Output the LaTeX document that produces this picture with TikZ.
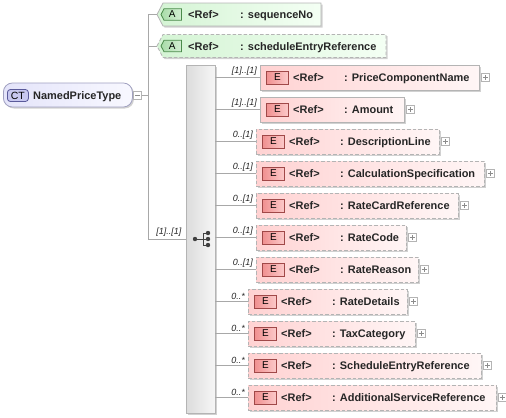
\documentclass[tikz,border=0pt]{standalone}
\usepackage{fontspec}
\setmainfont{Liberation Sans}
\usetikzlibrary{calc,shadows}
\definecolor{linec}{HTML}{A8A8A8}
\definecolor{boxb}{HTML}{B4B4B4}
\definecolor{ctfillL}{HTML}{E4E4FA}
\definecolor{ctfillR}{HTML}{F8F8FF}
\definecolor{ctbord}{HTML}{A0A0C0}
\definecolor{ctbadge}{HTML}{C8C8F0}
\definecolor{ctbadgeb}{HTML}{5A5A9A}
\definecolor{atL}{HTML}{D4F4D4}
\definecolor{atR}{HTML}{F4FFF4}
\definecolor{atbadge}{HTML}{A8DCA8}
\definecolor{atbadgeb}{HTML}{4A8A4A}
\definecolor{elL}{HTML}{FFD2D2}
\definecolor{elR}{HTML}{FFF6F6}
\definecolor{elbadgeL}{HTML}{F09090}
\definecolor{elbadgeR}{HTML}{FCCACA}
\definecolor{elbadgeb}{HTML}{A04848}
\definecolor{seqL}{HTML}{DCDCDC}
\definecolor{seqR}{HTML}{F6F6F6}
\definecolor{icon}{HTML}{404040}
\tikzset{
  conn/.style={draw=linec, line width=0.8bp},
  shad/.style={drop shadow={shadow xshift=1.5bp, shadow yshift=-1.5bp, opacity=0.18, fill=black}},
  elembox/.style={shad, draw=boxb, line width=0.8bp, left color=elL, right color=elR, minimum height=25bp, inner sep=0pt, outer sep=0pt},
  soliddash/.style={solid},
  dashdash/.style={dash pattern=on 3.5bp off 2bp},
  ebadge/.style={draw=elbadgeb, line width=0.8bp, left color=elbadgeL, right color=elbadgeR, minimum width=22bp, minimum height=13bp, inner sep=0pt, font=\fontsize{10}{12}\selectfont},
  etext/.style={inner sep=0pt, font=\fontsize{11}{13}\selectfont\bfseries, text=black!85},
  lab/.style={inner sep=0pt, font=\fontsize{9}{10}\selectfont\itshape, text=black!85},
  plusbox/.style={draw=boxb, line width=0.6bp, fill=white, minimum width=8bp, minimum height=8bp, inner sep=0pt},
  plusl/.style={draw=black!45, line width=0.6bp},
}
\newcommand\elemrow[7]{%
  \pgfmathsetmacro\elw{#3-#2}%
  \node[elembox,#5,minimum width=\elw bp,anchor=west] (#1) at (#2,#4) {};
  \node[ebadge,anchor=west] (#1b) at ($(#1.west)+(6,0)$) {E};
  \node[etext,anchor=base west] (#1r) at ($(#1.west)+(33,4)$) {<Ref>};
  \node[etext,anchor=base west] (#1n) at ($(#1.west)+(84,4)$) {: #6};
  \node[plusbox,anchor=west] (#1p) at ($(#1.east)+(2,0)$) {};
  \draw[plusl] ($(#1p.center)+(-2.5,0)$) -- ($(#1p.center)+(2.5,0)$);
  \draw[plusl] ($(#1p.center)+(0,-2.5)$) -- ($(#1p.center)+(0,2.5)$);
  \draw[conn] (seq.east |- #1.west) -- (#1.west);
  \node[lab,anchor=south east] (#1l) at ($(#1.west)+(-3,-2)$) {#7};
}
\newcommand\attrrow[5]{% id, right, cy, style, name
  \node[minimum width={(#2-157)*1bp}, minimum height=23bp, inner sep=0pt, outer sep=0pt, anchor=west] (#1) at (157,#3) {};
  \path[shad, draw=boxb, line width=0.8bp, left color=atL, right color=atR, #4]
    (#1.west) -- ($(#1.north west)+(6,0)$) -- (#1.north east) -- (#1.south east) -- ($(#1.south west)+(6,0)$) -- cycle;
  \node[minimum width=20bp, minimum height=11bp, inner sep=0pt, anchor=west] (#1b) at ($(#1.west)+(4,0)$) {};
  \path[draw=atbadgeb, line width=0.8bp, left color=atbadge, right color=atbadge!50!white]
    ($(#1b.west)+(0,0)$) -- ($(#1b.north west)+(3,0)$) -- (#1b.north east) -- (#1b.south east) -- ($(#1b.south west)+(3,0)$) -- cycle;
  \node[inner sep=0pt, font=\fontsize{10}{12}\selectfont] (#1bt) at ($(#1b.center)+(1,0)$) {A};
  \node[etext,anchor=base west] (#1r) at (188,#3+4) {<Ref>};
  \node[etext,anchor=base west] (#1n) at (240,#3+4) {: #5};
}
\begin{document}
\begin{tikzpicture}[x=1bp,y=-1bp]
\useasboundingbox (0,0) rectangle (506,417);
% complex type
\node[shad, draw=ctbord, line width=0.8bp, left color=ctfillL, right color=ctfillR, rounded corners=9bp, minimum width=129bp, minimum height=24bp, anchor=west, inner sep=0pt] (ct) at (3,95) {};
\node[draw=ctbadgeb, line width=0.8bp, fill=ctbadge, rounded corners=3bp, minimum width=21bp, minimum height=12bp, inner sep=0pt, anchor=west, font=\fontsize{10.5}{12}\selectfont] (ctb) at (7,95.5) {CT};
\node[etext,anchor=base west] (ctn) at (33,99) {NamedPriceType};
\node[plusbox,anchor=west] (ctm) at (133,95) {};
\draw[plusl] ($(ctm.center)+(-2.5,0)$) -- ($(ctm.center)+(2.5,0)$);
\coordinate (j) at (148,95);
% sequence
\node[shad, draw=boxb, line width=0.8bp, left color=seqL, right color=seqR, minimum width=29bp, minimum height=348bp, inner sep=0pt] (seq) at (200.5,239) {};
% attributes
\attrrow{a1}{321}{14.5}{solid}{sequenceNo}
\attrrow{a2}{386}{46}{dashdash}{scheduleEntryReference}
\draw[conn] (ctm.east) -- (j);
\draw[conn] (a1.west) -- (a1.west -| j) |- (seq.west);
\draw[conn] (a2.west) -- (a2.west -| j);
\node[lab,anchor=south east] (seql) at ($(seq.west)+(-4,-2)$) {[1]..[1]};
% sequence icon
\coordinate (ic) at (195,239);
\fill[icon] (ic) circle (2.2bp);
\draw[icon, line width=1bp] (ic) -- ++(8,0) (203,233) -- (203,245) (203,233) -- (208,233) (203,245) -- (208,245) (203,239) -- (208,239);
\fill[icon] (208,233) circle (2.2bp) (208,239) circle (2.2bp) (208,245) circle (2.2bp);
% elements
\elemrow{e1}{260}{479}{77.5}{soliddash}{PriceComponentName}{[1]..[1]}
\elemrow{e2}{260}{404}{109.5}{soliddash}{Amount}{[1]..[1]}
\elemrow{e3}{256}{439}{141.5}{dashdash}{DescriptionLine}{0..[1]}
\elemrow{e4}{256}{484}{173.5}{dashdash}{CalculationSpecification}{0..[1]}
\elemrow{e5}{256}{458}{205.5}{dashdash}{RateCardReference}{0..[1]}
\elemrow{e6}{256}{406}{237.5}{dashdash}{RateCode}{0..[1]}
\elemrow{e7}{256}{418}{269.5}{dashdash}{RateReason}{0..[1]}
\elemrow{e8}{248}{407}{301.5}{dashdash}{RateDetails}{0..*}
\elemrow{e9}{248}{415}{333.5}{dashdash}{TaxCategory}{0..*}
\elemrow{e10}{248}{481}{365.5}{dashdash}{ScheduleEntryReference}{0..*}
\elemrow{e11}{248}{496}{397.5}{dashdash}{AdditionalServiceReference}{0..*}
\end{tikzpicture}
\end{document}
